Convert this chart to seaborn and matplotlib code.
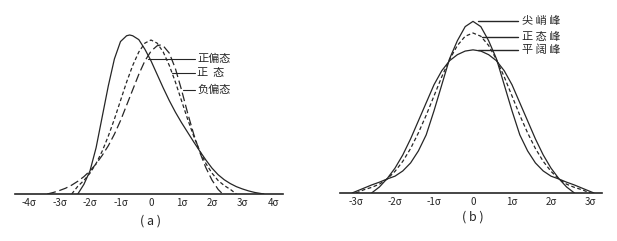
import matplotlib
matplotlib.use("Agg")
import matplotlib.pyplot as plt
import seaborn as sns

sns.set_theme(style="white")
plt.rcParams['font.family'] = ['Noto Sans CJK SC', 'DejaVu Sans']

# ---------------- data (in sigma units / density) -------------
# panel (a)
pos_x = [-2.4, -2.2, -2.0, -1.8, -1.6, -1.4, -1.2, -1.0, -0.8, -0.7, -0.6, -0.4, -0.2, 0.0, 0.2,
         0.4, 0.6, 0.8, 1.0, 1.2, 1.4, 1.6, 1.8, 2.0, 2.2, 2.4, 2.6, 2.8, 3.0, 3.2, 3.4, 3.7]
pos_y = [0.0, 0.025, 0.06, 0.12, 0.20, 0.28, 0.35, 0.395, 0.41, 0.412, 0.41, 0.40, 0.375, 0.345, 0.31,
         0.275, 0.242, 0.212, 0.185, 0.16, 0.135, 0.111, 0.088, 0.067, 0.05, 0.037, 0.027, 0.019, 0.013,
         0.008, 0.004, 0.0]
norm_a_x = [-2.6, -2.4, -2.2, -2.0, -1.8, -1.6, -1.4, -1.2, -1.0, -0.8, -0.6, -0.4, -0.2, 0.0,
            0.2, 0.4, 0.6, 0.8, 1.0, 1.2, 1.4, 1.6, 1.8, 2.0, 2.2, 2.4, 2.6, 2.8]
norm_a_y = [0.0, 0.02, 0.035, 0.054, 0.079, 0.111, 0.150, 0.194, 0.242, 0.290, 0.333, 0.368, 0.391, 0.399,
            0.391, 0.368, 0.333, 0.290, 0.242, 0.194, 0.150, 0.111, 0.079, 0.054, 0.035, 0.022, 0.012, 0.0]
neg_x = [-3.4, -3.2, -3.0, -2.8, -2.6, -2.4, -2.2, -2.0, -1.8, -1.6, -1.4, -1.2, -1.0, -0.8, -0.6,
         -0.4, -0.2, 0.0, 0.2, 0.3, 0.4, 0.6, 0.8, 1.0, 1.2, 1.4, 1.6, 1.8, 2.0, 2.2, 2.35]
neg_y = [0.0, 0.004, 0.009, 0.015, 0.023, 0.033, 0.045, 0.06, 0.078, 0.10, 0.125, 0.155, 0.19, 0.23, 0.27,
         0.31, 0.345, 0.37, 0.384, 0.386, 0.384, 0.365, 0.325, 0.27, 0.21, 0.155, 0.108, 0.068, 0.036,
         0.012, 0.0]
ticks_a = [-4, -3, -2, -1, 0, 1, 2, 3, 4]
ticklabels_a = ["-4σ", "-3σ", "-2σ", "-1σ", "0", "1σ", "2σ", "3σ", "4σ"]
labels_a = ["正偏态", "正  态", "负偏态"]

# panel (b)
sharp_x = [-3.1, -3.0, -2.8, -2.6, -2.4, -2.2, -2.0, -1.8, -1.6, -1.4, -1.2, -1.0, -0.8, -0.6, -0.4, -0.2,
           0.0, 0.2, 0.4, 0.6, 0.8, 1.0, 1.2, 1.4, 1.6, 1.8, 2.0, 2.2, 2.4, 2.6, 2.8, 3.0, 3.1]
sharp_y = [0.0, 0.004, 0.012, 0.02, 0.027, 0.035, 0.042, 0.055, 0.075, 0.105, 0.145, 0.205, 0.27, 0.335,
           0.38, 0.415, 0.428, 0.415, 0.38, 0.335, 0.27, 0.205, 0.145, 0.105, 0.075, 0.055, 0.042, 0.035,
           0.027, 0.02, 0.012, 0.004, 0.0]
norm_b_x = [-3.0, -2.8, -2.6, -2.4, -2.2, -2.0, -1.8, -1.6, -1.4, -1.2, -1.0, -0.8, -0.6, -0.4, -0.2, 0.0,
            0.2, 0.4, 0.6, 0.8, 1.0, 1.2, 1.4, 1.6, 1.8, 2.0, 2.2, 2.4, 2.6, 2.8, 3.0]
norm_b_y = [0.0, 0.008, 0.014, 0.022, 0.035, 0.054, 0.079, 0.111, 0.150, 0.194, 0.242, 0.290, 0.333, 0.368,
            0.391, 0.399, 0.391, 0.368, 0.333, 0.290, 0.242, 0.194, 0.150, 0.111, 0.079, 0.054, 0.035,
            0.022, 0.014, 0.008, 0.0]
flat_x = [-2.6, -2.4, -2.2, -2.0, -1.8, -1.6, -1.4, -1.2, -1.0, -0.8, -0.6, -0.4, -0.2, 0.0,
          0.2, 0.4, 0.6, 0.8, 1.0, 1.2, 1.4, 1.6, 1.8, 2.0, 2.2, 2.4, 2.6]
flat_y = [0.0, 0.015, 0.036, 0.062, 0.095, 0.135, 0.18, 0.225, 0.27, 0.305, 0.33, 0.345, 0.354, 0.357,
          0.354, 0.345, 0.33, 0.305, 0.27, 0.225, 0.18, 0.135, 0.095, 0.062, 0.036, 0.015, 0.0]
ticks_b = [-3, -2, -1, 0, 1, 2, 3]
ticklabels_b = ["-3σ", "-2σ", "-1σ", "0", "1σ", "2σ", "3σ"]
labels_b = ["尖 峭 峰", "正 态 峰", "平 阔 峰"]

# ---------------- figure ----------------
W, H = 617, 241
INK = "#262626"
fig = plt.figure(figsize=(W / 100, H / 100), dpi=100)
fig.patch.set_facecolor("white")


def px_axes(x0, x1, y_top, y_base):
    return fig.add_axes([x0 / W, 1 - y_base / H, (x1 - x0) / W, (y_base - y_top) / H])


def style_axes(ax, ticks, labels):
    for s in ("top", "right", "left"):
        ax.spines[s].set_visible(False)
    ax.spines["bottom"].set_color(INK)
    ax.spines["bottom"].set_linewidth(1.2)
    ax.set_yticks([])
    ax.set_xticks(ticks)
    ax.set_xticklabels(labels, fontsize=7, color=INK)
    ax.tick_params(axis="x", direction="in", length=3, width=0.8, color=INK, pad=3)
    ax.set_xlabel("")
    ax.set_ylabel("")
    ax.patch.set_alpha(0)


# panel (a): 0 at x=151px, sigma = 30.5 px, baseline y=194px, 1px = 0.002591
ax_a = px_axes(15, 283, 25, 194)
ax_a.set_xlim((15 - 151) / 30.5, (283 - 151) / 30.5)
ax_a.set_ylim(0, 169 * 0.002591)
sns.lineplot(x=pos_x, y=pos_y, ax=ax_a, color=INK, lw=0.9, sort=False)
sns.lineplot(x=norm_a_x, y=norm_a_y, ax=ax_a, color=INK, lw=0.9, sort=False, linestyle=(0, (3, 2)))
sns.lineplot(x=neg_x, y=neg_y, ax=ax_a, color=INK, lw=0.9, sort=False, linestyle=(0, (7, 3)))
style_axes(ax_a, ticks_a, ticklabels_a)

# label leaders (a): (leader start x in sigma, y level)
lead_a = [(-0.1, 0.35), (0.7, 0.313), (1.05, 0.27)]
for (lx, ly), t in zip(lead_a, labels_a):
    ax_a.plot([lx, 1.44], [ly, ly], color=INK, lw=0.8)
    ax_a.text(1.52, ly, t, fontsize=8, va="center", ha="left", color=INK)
fig.text(151 / W, 1 - 221 / H, "( a )", fontsize=9, ha="center", va="center", color=INK)

# panel (b): 0 at x=473px, sigma = 39 px, baseline y=193, 1px = 0.002494
ax_b = px_axes(340, 602, 10, 193)
ax_b.set_xlim((340 - 473) / 39, (602 - 473) / 39)
ax_b.set_ylim(0, 183 * 0.002494)
sns.lineplot(x=sharp_x, y=sharp_y, ax=ax_b, color=INK, lw=0.9, sort=False)
sns.lineplot(x=norm_b_x, y=norm_b_y, ax=ax_b, color=INK, lw=0.9, sort=False, linestyle=(0, (3, 2)))
sns.lineplot(x=flat_x, y=flat_y, ax=ax_b, color=INK, lw=0.9, sort=False)
style_axes(ax_b, ticks_b, ticklabels_b)

lead_b = [(0.12, 0.428), (0.23, 0.39), (0.12, 0.357)]
for (lx, ly), t in zip(lead_b, labels_b):
    ax_b.plot([lx, 1.15], [ly, ly], color=INK, lw=1.0)
    ax_b.text(1.25, ly, t, fontsize=8, va="center", ha="left", color=INK)
fig.text(473 / W, 1 - 217 / H, "( b )", fontsize=9, ha="center", va="center", color=INK)

fig.savefig("out.png", dpi=100, facecolor="white")
